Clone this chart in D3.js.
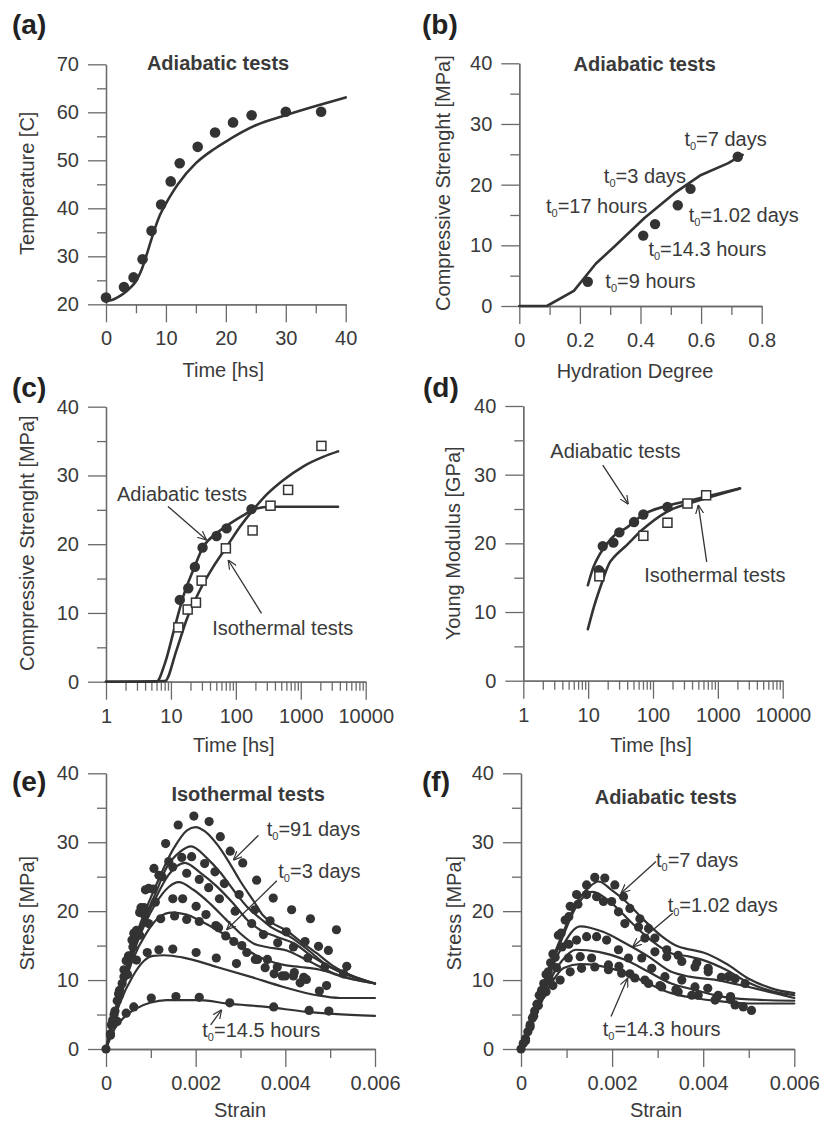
<!DOCTYPE html>
<html>
<head>
<meta charset="utf-8">
<script src="https://cdn.jsdelivr.net/npm/d3@7"></script>
<style>
  body { margin: 0; background: #fff; }
  svg { display: block; }
</style>
</head>
<body>
<script>
// ---------------- data ----------------
// (a) adiabatic temperature rise
const aTime = [0, 3, 4.6, 6.1, 7.6, 9.2, 10.8, 12.3, 15.3, 18.2, 21.2, 24.3, 30, 35.9];
const aTemp = [21.4, 23.6, 25.6, 29.4, 35.3, 40.8, 45.6, 49.4, 52.8, 55.8, 57.9, 59.4, 60.1, 60.1];
const aModelTime = [0, 1, 2, 3, 4, 5, 6, 7, 8, 9, 10, 11, 12, 15, 18, 20, 25, 30, 35, 40];
const aModelTemp = [20.7, 20.9, 21.5, 22.3, 23.4, 24.8, 27.4, 31.2, 35.2, 38.6, 41.0, 43.1, 45.0, 49.4, 52.3, 53.9, 57.3, 59.4, 61.3, 63.1];

// (b) strength vs hydration degree
const bHydration = [0.226, 0.409, 0.448, 0.523, 0.565, 0.721];
const bStrength = [4.0, 11.6, 13.5, 16.6, 19.3, 24.6];
const bModelHydration = [0, 0.091, 0.18, 0.253, 0.314, 0.413, 0.512, 0.6, 0.688, 0.737];
const bModelStrength = [0, 0, 2.5, 7.0, 9.8, 14.5, 18.6, 21.6, 23.5, 24.9];
const bLabelText = ["=7 days", "=3 days", "=17 hours", "=1.02 days", "=14.3 hours", "=9 hours"];
const bLabelX = [0.545, 0.279, 0.088, 0.559, 0.426, 0.284];
const bLabelY = [26.4, 20.2, 15.3, 13.9, 8.2, 2.9];

// (c) compressive strength vs time
const cAdiaTime = [13.7, 18.5, 23.4, 30.7, 50.5, 72, 174];
const cAdiaStrength = [11.9, 13.6, 16.7, 19.5, 21.2, 22.3, 25.1];
const cIsoTime = [13, 18.1, 24.3, 29.7, 70.2, 181, 342, 638, 2080];
const cIsoStrength = [7.9, 10.5, 11.5, 14.7, 19.4, 22.0, 25.6, 27.9, 34.3];
const cAdiaModelTime = [1, 6.0, 8.1, 11.5, 15.5, 22, 31.4, 50.5, 81, 130, 208, 333, 3750];
const cAdiaModelStrength = [0, 0, 2.7, 8.0, 12.4, 16.2, 19.6, 21.6, 23.0, 24.2, 25.2, 25.45, 25.45];
const cIsoModelTime = [1, 8.1, 12.2, 17.4, 27.9, 44.8, 71.9, 115, 185, 297, 535, 1084, 2203, 3750];
const cIsoModelStrength = [0, 0.1, 4.6, 9.0, 13.3, 16.7, 19.6, 22.5, 25.0, 27.2, 29.3, 31.3, 32.7, 33.5];

// (d) Young modulus vs time
const dAdiaTime = [14.6, 15.4, 16.8, 24.5, 30.3, 51, 71, 167];
const dAdiaModulus = [16.1, 15.8, 19.6, 20.1, 21.6, 23.1, 24.2, 25.3];
const dIsoTime = [14.9, 71, 167, 340, 660];
const dIsoModulus = [15.2, 21.1, 23.0, 25.8, 27.0];
const dAdiaModelTime = [9.9, 12, 15.3, 22.6, 40.8, 71, 169, 435, 2155];
const dAdiaModelModulus = [13.9, 16.5, 18.5, 20.7, 22.4, 24.2, 25.5, 26.4, 28.0];
const dIsoModelTime = [9.9, 12.5, 15.8, 21.8, 24, 39.4, 67, 163, 533, 2200];
const dIsoModelModulus = [7.5, 11.0, 13.9, 17.3, 17.8, 19.75, 21.9, 24.6, 26.3, 28.0];

// (e) isothermal stress-strain, measured [strain, stress]
const eTest91d = [[0,0],[0.00012,3.5],[0.00028,8],[0.00045,12.8],[0.00062,16.8],[0.00075,19.8],[0.00088,23.1],[0.00107,26.2],[0.00133,29.8],[0.00161,32.5],[0.00196,33.8],[0.0023,33.0],[0.00255,30.8],[0.00277,28.7],[0.00305,27.0],[0.00336,24.5],[0.00373,21.9],[0.00414,20.2],[0.00456,18.9],[0.00514,17.3]];
const eTestB = [[0.0001,2.2],[0.00025,7],[0.0004,11.5],[0.00058,15.8],[0.00078,20.5],[0.00095,23.3],[0.00118,25.2],[0.0014,27.2],[0.00169,27.8],[0.00191,27.9],[0.0022,26.9],[0.00243,25.7],[0.00264,24.0],[0.00297,22.4],[0.00332,20.2],[0.00366,18.6],[0.00402,17.0],[0.00444,15.6],[0.00474,14.9],[0.00496,14.3],[0.00537,12.0]];
const eTestC = [[0.00015,4],[0.0003,8.5],[0.0005,13.5],[0.00068,17.2],[0.00085,20.5],[0.00105,23.2],[0.00125,25.0],[0.00149,26.4],[0.0018,25.5],[0.00208,24.6],[0.00229,23.4],[0.00253,21.8],[0.00288,20.0],[0.00325,18.2],[0.00351,16.6],[0.00383,15.4],[0.00418,14.8],[0.0045,13.2],[0.00488,11.9],[0.0053,10.9]];
const eTestD = [[0.0002,5.5],[0.0004,10.5],[0.0006,14.8],[0.00085,19.5],[0.0011,21.3],[0.00149,21.8],[0.00171,21.8],[0.00201,20.7],[0.00223,19.5],[0.00251,17.6],[0.00285,15.6],[0.00314,14.0],[0.00338,13.0],[0.0036,13.0],[0.00382,11.9],[0.004,10.6],[0.00418,10.6],[0.00433,9.6],[0.00447,10.1],[0.00492,9.2]];
const eTestE = [[0.00018,5],[0.00036,9.5],[0.00055,13.5],[0.00075,16.5],[0.00095,18.2],[0.00122,18.9],[0.00153,19.3],[0.0018,18.8],[0.00208,18.5],[0.00245,17.9],[0.00267,16.4],[0.00303,15.0],[0.00333,13.0],[0.00355,11.8],[0.00375,10.9],[0.00393,10.6],[0.0042,11.1],[0.00441,10.4],[0.00476,8.4]];
const eTestF = [[0.00015,4.2],[0.0003,7.8],[0.00048,10.8],[0.00068,12.9],[0.00092,14.0],[0.00118,14.4],[0.00149,14.5],[0.00201,14.0],[0.00246,13.2],[0.00291,12.4]];
const eTest14h = [[0.0001,2.0],[0.00025,4.0],[0.00045,5.2],[0.00062,6.1],[0.00101,7.4],[0.00156,7.6],[0.00208,7.5],[0.00276,6.7],[0.00374,6.1],[0.00453,5.6],[0.00497,5.5]];
// (e) model curves
const eModel1 = [[0,0],[0.0003,8],[0.0007,17],[0.0011,23.5],[0.0015,29],[0.0018,31.7],[0.002,32.2],[0.0022,31.6],[0.0025,29.5],[0.0028,26.5],[0.003,24.3],[0.0033,21.4],[0.0035,19.4],[0.0037,18.3],[0.004,17.3],[0.0043,15.8],[0.0047,13.9],[0.0051,11.9],[0.0055,10.6],[0.006,9.5]];
const eModel2 = [[0,0],[0.0003,7.8],[0.0007,16.5],[0.0011,22.5],[0.00135,26.3],[0.00165,28.6],[0.0019,29.4],[0.00225,27.7],[0.00255,25.6],[0.00285,23.0],[0.00315,20.6],[0.00345,18.9],[0.0037,17.6],[0.0041,16.3],[0.0045,14.4],[0.0049,12.3],[0.0055,10.6],[0.006,9.5]];
const eModel3 = [[0,0],[0.0003,7.5],[0.0007,16],[0.0011,21.8],[0.0014,25.3],[0.00176,27.0],[0.0021,25.6],[0.00247,23.6],[0.00284,21.1],[0.00314,18.8],[0.00343,17.3],[0.0038,16.3],[0.0042,15.3],[0.0046,13.4],[0.0052,11.2],[0.006,9.5]];
const eModel4 = [[0,0],[0.0003,7.3],[0.0007,15.5],[0.0011,21],[0.0014,23.5],[0.00162,24.2],[0.00195,23.1],[0.00232,21.1],[0.00269,18.7],[0.00299,16.8],[0.00329,15.3],[0.00358,14.8],[0.00403,14.3],[0.00448,12.9],[0.00507,11.0],[0.006,9.5]];
const eModel5 = [[0,0],[0.0003,7],[0.0006,13],[0.0009,16.8],[0.0012,19.2],[0.00146,19.8],[0.0018,19.5],[0.0021,18.6],[0.00247,17.3],[0.00284,15.8],[0.00321,14.1],[0.00358,12.9],[0.00396,12.2],[0.00433,11.9],[0.00477,11.5],[0.00537,10.3],[0.006,9.5]];
const eModel6 = [[0,0],[0.0003,6.5],[0.0006,10.6],[0.00085,12.8],[0.00105,13.5],[0.0013,13.6],[0.0017,13.3],[0.00247,11.9],[0.00321,10.5],[0.00396,9.0],[0.0047,7.8],[0.00522,7.4],[0.006,7.4]];
const eModel7 = [[0,0],[0.0002,3],[0.00042,4.7],[0.00068,5.9],[0.00098,6.7],[0.00135,7.1],[0.0021,7.1],[0.00269,6.6],[0.00358,6.1],[0.00448,5.4],[0.00507,5.1],[0.006,4.8]];

// (f) adiabatic stress-strain, measured [strain, stress]
const fTest7d = [[0.00005,0.8],[0.0002,3.5],[0.00035,6.5],[0.0005,9.5],[0.00065,12.5],[0.00082,16.5],[0.00097,18.7],[0.00108,20.7],[0.00122,22.4],[0.00144,23.8],[0.00162,24.9],[0.00184,24.8],[0.00206,23.8],[0.00225,22.1],[0.00239,20.4],[0.00261,18.9],[0.0028,17.5],[0.00294,16.1],[0.0032,14.4],[0.00345,13.6],[0.00386,12.5],[0.00411,11.7],[0.00455,10.5],[0.00492,9.5]];
const fTest102d = [[0.0001,1.5],[0.00025,4.5],[0.0004,7.8],[0.00055,10.8],[0.0007,13.8],[0.00088,16.8],[0.00105,19.2],[0.00125,21.0],[0.00144,22.4],[0.00166,22.1],[0.00181,21.4],[0.00199,21.4],[0.00214,19.9],[0.00228,18.2],[0.00258,17.7],[0.00272,16.1],[0.00294,14.1],[0.0032,13.4],[0.00353,12.7],[0.00382,11.9],[0.00411,11.2],[0.0044,10.4],[0.0047,10.2]];
const fTestC = [[0.00015,2.5],[0.0003,5.5],[0.00045,8.5],[0.0006,11.2],[0.00075,13.3],[0.0009,14.8],[0.00105,15.2],[0.00122,15.8],[0.00144,16.3],[0.00166,16.3],[0.00188,15.8],[0.00214,14.4],[0.00236,13.2],[0.00265,13.2],[0.00287,11.7],[0.00316,10.5],[0.00353,10.0],[0.00382,9.0],[0.0041,8.8],[0.00433,7.8],[0.0046,7.6]];
const fTestD = [[0.0001,1.2],[0.00028,4.8],[0.00045,7.8],[0.00062,10.2],[0.00078,11.8],[0.00104,13.2],[0.0013,13.4],[0.00155,13.2],[0.00192,12.2],[0.00215,12.0],[0.00239,10.9],[0.00272,10.0],[0.00305,9.2],[0.00345,8.3],[0.00389,7.8],[0.0043,7.5],[0.0047,6.4],[0.00488,6.1],[0.00506,5.6]];
const fTest14h = [[0,0],[0.0002,3.2],[0.00038,6.3],[0.00055,8.3],[0.0007,9.2],[0.00086,10.0],[0.00108,11.2],[0.00133,11.7],[0.00162,11.9],[0.00192,11.5],[0.00221,11.0],[0.0025,10.3],[0.0028,9.5],[0.00309,9.0],[0.0034,8.6],[0.00375,7.8],[0.00426,7.1],[0.0046,7.2]];
// (f) model curves
const fModel1 = [[0,0],[0.0003,5.5],[0.0006,11.5],[0.0009,16.5],[0.0012,21],[0.0015,23.5],[0.0017,24.3],[0.002,23],[0.0023,21.4],[0.0027,18.7],[0.0031,16.3],[0.0034,15.0],[0.0038,14.3],[0.004,14.0],[0.0045,12.4],[0.005,10.2],[0.0055,8.8],[0.006,8.1]];
const fModel2 = [[0,0],[0.0003,5.3],[0.0006,11],[0.0009,16],[0.0012,20.5],[0.00157,22.8],[0.002,21.1],[0.0024,18.5],[0.00285,15.8],[0.0033,13.9],[0.0037,13.4],[0.004,12.9],[0.0045,11.5],[0.005,9.6],[0.0055,8.4],[0.006,7.8]];
const fModel3 = [[0,0],[0.0003,5],[0.0006,10.5],[0.0009,14.8],[0.0013,17.8],[0.0018,17.0],[0.0023,15.3],[0.0028,13.4],[0.0033,11.2],[0.0037,10.5],[0.0043,10.0],[0.005,9.0],[0.006,7.4]];
const fModel4 = [[0,0],[0.0003,4.8],[0.0006,9.5],[0.0009,12.8],[0.0012,14.4],[0.0017,14.1],[0.0023,12.9],[0.0028,11.2],[0.0033,9.5],[0.0038,8.6],[0.0044,7.6],[0.005,7.2],[0.006,7.0]];
const fModel5 = [[0,0],[0.0003,4.6],[0.0006,8.8],[0.00095,11.8],[0.0013,12.3],[0.0017,12.1],[0.0023,11.0],[0.0028,9.5],[0.0033,8.1],[0.0038,7.4],[0.0044,6.9],[0.005,6.6],[0.006,6.6]];

// tick values
const ticks10to70 = [20, 30, 40, 50, 60, 70];
const ticks5to70 = [25, 35, 45, 55, 65];
const ticks0to40 = [0, 10, 20, 30, 40];
const ticksMinor0to40 = [5, 15, 25, 35];
const ticksHydration = [0, 0.2, 0.4, 0.6, 0.8];
const ticksHydrationMinor = [0.1, 0.3, 0.5, 0.7];
const ticksDecades = [1, 10, 100, 1000, 10000];
const ticksStrain = [0, 0.002, 0.004, 0.006];
const ticksStrainMinor = [0.001, 0.003, 0.005];

// ---------------- drawing ----------------
const FONT = '"Liberation Sans", Arial, Helvetica, sans-serif';
const INK = "#333";
const AXIS = "#6a6a6a";
const TXT = "#3a3a3a";

const svg = d3.select("body").append("svg")
  .attr("width", 822).attr("height", 1121)
  .style("font-family", FONT);

svg.append("defs").append("marker")
  .attr("id", "arrow")
  .attr("viewBox", "0 -5 10 10")
  .attr("refX", 10).attr("refY", 0)
  .attr("markerWidth", 9).attr("markerHeight", 9)
  .attr("markerUnits", "userSpaceOnUse")
  .attr("orient", "auto")
  .append("path")
  .attr("d", "M0,-4.5L10,0L0,4.5")
  .attr("fill", "none").attr("stroke", INK).attr("stroke-width", 1.3);

const zip = (xs, ys) => xs.map((x, i) => [x, ys[i]]);
const logMinor = [];
[1, 10, 100, 1000].forEach(dec => { for (let k = 2; k <= 9; k++) logMinor.push(dec * k); });

function styleAxis(sel) {
  sel.attr("font-family", null).attr("font-size", null);
  sel.select(".domain").attr("stroke", AXIS).attr("stroke-width", 1.3);
  sel.selectAll(".tick line").attr("stroke", AXIS).attr("stroke-width", 1.3);
  sel.selectAll(".tick text").attr("fill", TXT).attr("font-size", 20);
}

function panel(p) {
  const g = svg.append("g");
  const xs = (p.log ? d3.scaleLog() : d3.scaleLinear()).domain(p.xDomain).range([p.box.x0, p.box.x1]);
  const ys = d3.scaleLinear().domain(p.yDomain).range([p.box.y1, p.box.y0]);
  const fmt = d => String(d);

  g.append("g").attr("transform", `translate(0,${p.box.y1})`)
    .call(d3.axisBottom(xs).tickValues(p.xMinor).tickSize(9).tickSizeOuter(0).tickFormat(""))
    .call(styleAxis);
  g.append("g").attr("transform", `translate(0,${p.box.y1})`)
    .call(d3.axisBottom(xs).tickValues(p.xMajor).tickSize(18).tickSizeOuter(0).tickPadding(9).tickFormat(fmt))
    .call(styleAxis);
  g.append("g").attr("transform", `translate(${p.box.x0},0)`)
    .call(d3.axisLeft(ys).tickValues(p.yMinor).tickSize(9).tickSizeOuter(0).tickFormat(""))
    .call(styleAxis);
  g.append("g").attr("transform", `translate(${p.box.x0},0)`)
    .call(d3.axisLeft(ys).tickValues(p.yMajor).tickSize(18).tickSizeOuter(0).tickPadding(9).tickFormat(fmt))
    .call(styleAxis);

  // axis titles
  g.append("text")
    .attr("x", (p.box.x0 + p.box.x1) / 2 + (p.xTitleShift || 0)).attr("y", p.box.y1 + p.xTitleGap)
    .attr("text-anchor", "middle").attr("font-size", 20).attr("fill", TXT)
    .text(p.xTitle);
  g.append("text")
    .attr("transform", `translate(${p.box.x0 - p.yTitleGap},${(p.box.y0 + p.box.y1) / 2 + (p.yTitleShift || 0)}) rotate(-90)`)
    .attr("text-anchor", "middle").attr("dy", "0.35em").attr("font-size", 20).attr("fill", TXT)
    .text(p.yTitle);
  // panel letter
  g.append("text")
    .attr("x", p.letterPos[0]).attr("y", p.letterPos[1])
    .attr("font-size", 28).attr("font-weight", "bold").attr("fill", "#222")
    .text(p.letter);
  return { g, xs, ys };
}

function drawLine(g, xs, ys, pts, width, curve) {
  g.append("path").datum(pts)
    .attr("fill", "none").attr("stroke", INK).attr("stroke-width", width)
    .attr("stroke-linejoin", "round").attr("stroke-linecap", "round")
    .attr("d", d3.line().x(d => xs(d[0])).y(d => ys(d[1])).curve(curve || d3.curveMonotoneX));
}
function drawDots(g, xs, ys, pts, r) {
  g.append("g").selectAll("circle").data(pts).join("circle")
    .attr("cx", d => xs(d[0])).attr("cy", d => ys(d[1])).attr("r", r).attr("fill", INK);
}
function drawSquares(g, xs, ys, pts, s) {
  g.append("g").selectAll("rect").data(pts).join("rect")
    .attr("x", d => xs(d[0]) - s / 2).attr("y", d => ys(d[1]) - s / 2)
    .attr("width", s).attr("height", s)
    .attr("fill", "#fff").attr("stroke", INK).attr("stroke-width", 1.5);
}
function plainLabel(g, x, y, text, opts = {}) {
  g.append("text").attr("x", x).attr("y", y)
    .attr("text-anchor", opts.anchor || "start")
    .attr("font-size", 20).attr("font-weight", opts.bold ? "bold" : null)
    .attr("fill", TXT).text(text);
}
function t0Label(g, x, y, rest) {
  const t = g.append("text").attr("x", x).attr("y", y).attr("font-size", 20).attr("fill", TXT);
  t.append("tspan").text("t");
  t.append("tspan").attr("font-size", 11).attr("dy", 4).text("0");
  t.append("tspan").attr("dy", -4).text(rest);
}
function arrow(g, xs, ys, a) {
  g.append("line")
    .attr("x1", xs(a[0])).attr("y1", ys(a[1])).attr("x2", xs(a[2])).attr("y2", ys(a[3]))
    .attr("stroke", INK).attr("stroke-width", 1.3).attr("marker-end", "url(#arrow)");
}

// ---- (a) ----
{
  const { g, xs, ys } = panel({
    box: { x0: 106, x1: 345.7, y0: 64.3, y1: 304.3 },
    xDomain: [0, 40], yDomain: [20, 70],
    xMajor: ticks0to40, xMinor: ticksMinor0to40,
    yMajor: ticks10to70, yMinor: ticks5to70,
    xTitle: "Time [hs]", xTitleGap: 73, xTitleShift: -2.6,
    yTitle: "Temperature [C]", yTitleGap: 79, yTitleShift: -1,
    letter: "(a)", letterPos: [12, 34]
  });
  drawLine(g, xs, ys, zip(aModelTime, aModelTemp), 2.6);
  drawDots(g, xs, ys, zip(aTime, aTemp), 5.3);
  plainLabel(g, xs(18.7), ys(68.8), "Adiabatic tests", { anchor: "middle", bold: true });
}

// ---- (b) ----
{
  const { g, xs, ys } = panel({
    box: { x0: 519.3, x1: 761.7, y0: 63.3, y1: 306 },
    xDomain: [0, 0.8], yDomain: [0, 40],
    xMajor: ticksHydration, xMinor: ticksHydrationMinor,
    yMajor: ticks0to40, yMinor: ticksMinor0to40,
    xTitle: "Hydration Degree", xTitleGap: 72, xTitleShift: -5.5,
    yTitle: "Compressive Strenght [MPa]", yTitleGap: 76, yTitleShift: -1.6,
    letter: "(b)", letterPos: [422, 34]
  });
  drawLine(g, xs, ys, zip(bModelHydration, bModelStrength), 2.6, d3.curveLinear);
  drawDots(g, xs, ys, zip(bHydration, bStrength), 5.2);
  plainLabel(g, xs(0.414), ys(38.8), "Adiabatic tests", { anchor: "middle", bold: true });
  bLabelText.forEach((txt, i) => t0Label(g, xs(bLabelX[i]), ys(bLabelY[i]), txt));
}

// ---- (c) ----
{
  const { g, xs, ys } = panel({
    box: { x0: 106, x1: 365.7, y0: 406.7, y1: 681.7 },
    log: true, xDomain: [1, 10000], yDomain: [0, 40],
    xMajor: ticksDecades, xMinor: logMinor,
    yMajor: ticks0to40, yMinor: ticksMinor0to40,
    xTitle: "Time [hs]", xTitleGap: 70, xTitleShift: -2,
    yTitle: "Compressive Strenght [MPa]", yTitleGap: 79, yTitleShift: -1,
    letter: "(c)", letterPos: [12, 397]
  });
  drawLine(g, xs, ys, zip(cAdiaModelTime, cAdiaModelStrength), 2.6);
  drawLine(g, xs, ys, zip(cIsoModelTime, cIsoModelStrength), 2.6);
  drawDots(g, xs, ys, zip(cAdiaTime, cAdiaStrength), 5.2);
  drawSquares(g, xs, ys, zip(cIsoTime, cIsoStrength), 9);
  plainLabel(g, xs(1.476), ys(26.3), "Adiabatic tests");
  plainLabel(g, xs(43.2), ys(6.8), "Isothermal tests");
  arrow(g, xs, ys, [9.0, 25.5, 35.4, 20.6]);
  arrow(g, xs, ys, [248, 9.95, 76.2, 17.7]);
}

// ---- (d) ----
{
  const { g, xs, ys } = panel({
    box: { x0: 523.3, x1: 782.7, y0: 406, y1: 680.7 },
    log: true, xDomain: [1, 10000], yDomain: [0, 40],
    xMajor: ticksDecades, xMinor: logMinor,
    yMajor: ticks0to40, yMinor: ticksMinor0to40,
    xTitle: "Time [hs]", xTitleGap: 71, xTitleShift: -2,
    yTitle: "Young Modulus [GPa]", yTitleGap: 70, yTitleShift: 0,
    letter: "(d)", letterPos: [423, 397]
  });
  drawLine(g, xs, ys, zip(dAdiaModelTime, dAdiaModelModulus), 2.6);
  drawLine(g, xs, ys, zip(dIsoModelTime, dIsoModelModulus), 2.6);
  drawDots(g, xs, ys, zip(dAdiaTime, dAdiaModulus), 5.2);
  drawSquares(g, xs, ys, zip(dIsoTime, dIsoModulus), 9);
  plainLabel(g, xs(2.61), ys(32.5), "Adiabatic tests");
  plainLabel(g, xs(73.4), ys(14.3), "Isothermal tests");
  arrow(g, xs, ys, [16.8, 31.4, 41.6, 25.7]);
  arrow(g, xs, ys, [673, 17.3, 500, 25.6]);
}

// ---- (e) ----
{
  const { g, xs, ys } = panel({
    box: { x0: 106, x1: 375, y0: 773.3, y1: 1049 },
    xDomain: [0, 0.006], yDomain: [0, 40],
    xMajor: ticksStrain, xMinor: ticksStrainMinor,
    yMajor: ticks0to40, yMinor: ticksMinor0to40,
    xTitle: "Strain", xTitleGap: 68, xTitleShift: -0.5,
    yTitle: "Stress [MPa]", yTitleGap: 79, yTitleShift: 2,
    letter: "(e)", letterPos: [12, 791]
  });
  [eModel1, eModel2, eModel3, eModel4, eModel5, eModel6, eModel7]
    .forEach(m => drawLine(g, xs, ys, m, 2.2));
  [eTest91d, eTestB, eTestC, eTestD, eTestE, eTestF, eTest14h]
    .forEach(s => drawDots(g, xs, ys, s, 4.6));
  plainLabel(g, xs(0.00317), ys(36.0), "Isothermal tests", { anchor: "middle", bold: true });
  t0Label(g, xs(0.003585), ys(30.9), "=91 days");
  t0Label(g, xs(0.003843), ys(24.85), "=3 days");
  t0Label(g, xs(0.002148), ys(1.8), "=14.5 hours");
  arrow(g, xs, ys, [0.0034, 31.0, 0.00284, 27.4]);
  arrow(g, xs, ys, [0.00381, 24.4, 0.00269, 17.3]);
  arrow(g, xs, ys, [0.002335, 3.5, 0.00258, 5.7]);
}

// ---- (f) ----
{
  const { g, xs, ys } = panel({
    box: { x0: 521, x1: 794.3, y0: 773.3, y1: 1049 },
    xDomain: [0, 0.006], yDomain: [0, 40],
    xMajor: ticksStrain, xMinor: ticksStrainMinor,
    yMajor: ticks0to40, yMinor: ticksMinor0to40,
    xTitle: "Strain", xTitleGap: 68, xTitleShift: -1.6,
    yTitle: "Stress [MPa]", yTitleGap: 67, yTitleShift: 2,
    letter: "(f)", letterPos: [422, 791]
  });
  [fModel1, fModel2, fModel3, fModel4, fModel5]
    .forEach(m => drawLine(g, xs, ys, m, 2.2));
  [fTest7d, fTest102d, fTestC, fTestD, fTest14h]
    .forEach(s => drawDots(g, xs, ys, s, 4.6));
  plainLabel(g, xs(0.00318), ys(35.5), "Adiabatic tests", { anchor: "middle", bold: true });
  t0Label(g, xs(0.002964), ys(26.4), "=7 days");
  t0Label(g, xs(0.00322), ys(19.9), "=1.02 days");
  t0Label(g, xs(0.001794), ys(1.9), "=14.3 hours");
  arrow(g, xs, ys, [0.002964, 27.2, 0.002195, 22.6]);
  arrow(g, xs, ys, [0.00333, 19.7, 0.00245, 14.8]);
  arrow(g, xs, ys, [0.001976, 4.7, 0.002342, 10.3]);
}
</script>
</body>
</html>
